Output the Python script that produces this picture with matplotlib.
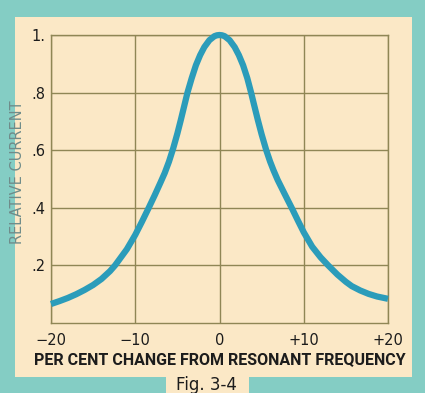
import numpy as np
import matplotlib
matplotlib.use("Agg")
import matplotlib.pyplot as plt
from matplotlib.patches import Rectangle

# values (per cent off resonance, relative current)
pct_change = [-20, -19, -18, -17, -16, -15, -14, -13, -12.4, -11, -10, -9.2, -8.4, -7.7, -7.0,
              -6.5, -6.0, -5.5, -5.0, -4.6, -4.2, -3.8, -3.3, -2.8, -2.3, -1.8, -1.2, -0.6, -0.3,
              0,
              0.3, 0.6, 1.2, 1.8, 2.3, 2.8, 3.3, 3.75, 4.1, 4.55, 5.0, 5.55, 6.0, 6.4, 6.9, 7.7,
              8.6, 9.3, 10, 11, 12, 12.9, 14, 15, 15.7, 16.7, 17.7, 18.7, 20]
rel_current = [0.066, 0.076, 0.087, 0.100, 0.115, 0.132, 0.153, 0.180, 0.200, 0.256, 0.306, 0.352, 0.400, 0.443, 0.488,
               0.521, 0.560, 0.606, 0.658, 0.704, 0.752, 0.800, 0.850, 0.895, 0.930, 0.958, 0.982, 0.996, 0.999,
               1.0,
               0.999, 0.996, 0.982, 0.958, 0.930, 0.895, 0.850, 0.800, 0.758, 0.705, 0.655, 0.600, 0.561, 0.531, 0.497, 0.450,
               0.398, 0.356, 0.315, 0.265, 0.228, 0.200, 0.168, 0.143, 0.128, 0.113, 0.101, 0.092, 0.084]

x_ticks = [-20, -10, 0, 10, 20]
x_ticklabels = ["\u221220", "\u221210", "0", "+10", "+20"]
y_ticks = [0.2, 0.4, 0.6, 0.8, 1.0]
y_ticklabels = [".2", ".4", ".6", ".8", "1."]

cream = "#fbe8c6"
teal = "#84cdc4"
grid_col = "#8f8655"
curve_col = "#2b9cba"
ink = "#1c1c1c"

W, H = 425, 393
fig = plt.figure(figsize=(W / 100, H / 100), dpi=100)
fig.patch.set_facecolor(teal)

# cream page inside the scanned teal border
fig.patches.append(Rectangle((15 / W, 1 - 377 / H), (412 - 15) / W, (377 - 17) / H,
                             transform=fig.transFigure, facecolor=cream, edgecolor="none", zorder=-10))
fig.patches.append(Rectangle((166 / W, 0), (249 - 166) / W, 20 / H,
                             transform=fig.transFigure, facecolor=cream, edgecolor="none", zorder=-10))

ax = fig.add_axes([51 / W, 1 - 323 / H, (388 - 51) / W, (323 - 35) / H])
ax.set_facecolor(cream)
ax.plot(pct_change, rel_current, color=curve_col, lw=4.5, solid_capstyle="butt",
        solid_joinstyle="round", zorder=3, clip_on=False)

ax.set_xlim(-20, 20)
ax.set_ylim(0, 1.0)
ax.set_xticks(x_ticks)
ax.set_xticklabels(x_ticklabels)
ax.set_yticks(y_ticks)
ax.set_yticklabels(y_ticklabels)
ax.grid(True, color=grid_col, lw=1.0, zorder=1)
ax.tick_params(length=0, labelsize=10.5, colors=ink)
ax.tick_params(axis="x", pad=7)
ax.tick_params(axis="y", pad=4)
for s in ax.spines.values():
    s.set_color(grid_col)
    s.set_linewidth(1.0)

ax.set_xlabel("PER CENT CHANGE FROM RESONANT FREQUENCY", fontsize=11.5, color=ink,
              labelpad=3, family="Roboto", fontweight="bold")
fig.text(18 / W, 1 - 172 / H, "RELATIVE CURRENT", rotation=90, ha="center", va="center",
         fontsize=10.5, color="#6f8c8a")
fig.text(206 / W, 1 - 385 / H, "Fig. 3-4", ha="center", va="center", fontsize=12, color=ink)

fig.savefig("out.png", dpi=100, facecolor=fig.get_facecolor())
